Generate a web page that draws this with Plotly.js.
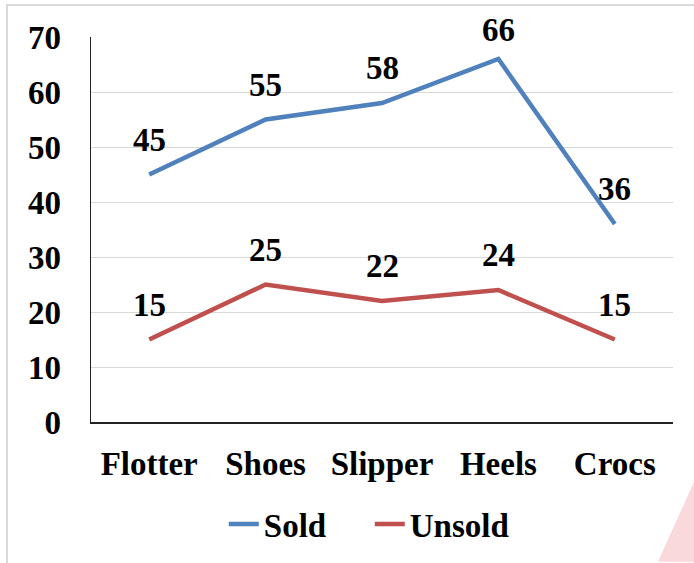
<!DOCTYPE html>
<html>
<head>
<meta charset="utf-8">
<script src="https://cdn.plot.ly/plotly-3.0.1.min.js"></script>
<style>html,body{margin:0;padding:0;background:#fff;}#chart{width:694px;height:563px;}</style>
</head>
<body>
<div id="chart"></div>
<script>
const categories = ["Flotter", "Shoes", "Slipper", "Heels", "Crocs"];
const soldValues = [45, 55, 58, 66, 36];
const unsoldValues = [15, 25, 22, 24, 15];
const seriesNames = ["Sold", "Unsold"];
const yTicks = [0, 10, 20, 30, 40, 50, 60, 70];

const FONT = "'Liberation Serif', 'Times New Roman', serif";
const blue = "#4F81BD";
const red = "#C0504D";

const traces = [
  {x: categories, y: soldValues, name: seriesNames[0], type: "scatter", mode: "lines",
   line: {color: blue, width: 4.5}},
  {x: categories, y: unsoldValues, name: seriesNames[1], type: "scatter", mode: "lines",
   line: {color: red, width: 4.5}}
];

const labelFont = {family: FONT, size: 33, color: "#000", weight: "bold"};
const annotations = [];
function addLabels(vals) {
  vals.forEach((v, i) => {
    annotations.push({x: categories[i], y: v, xref: "x", yref: "y", text: String(v),
      showarrow: false, font: labelFont, yshift: (v >= 66 ? 29 : 35)});
  });
}
addLabels(soldValues);
addLabels(unsoldValues);

const tickFont = {family: FONT, size: 33, color: "#000", weight: "bold"};

const layout = {
  width: 694, height: 563,
  margin: {l: 91, r: 21, t: 37, b: 140},
  paper_bgcolor: "#fff", plot_bgcolor: "#fff",
  font: {family: FONT, size: 33, color: "#000", weight: "bold"},
  xaxis: {type: "category", range: [-0.5, 4.5], showgrid: false, zeroline: false,
    showline: true, linecolor: "#222", linewidth: 1.5, ticks: "",
    tickfont: tickFont, ticklabelstandoff: 12, fixedrange: true},
  yaxis: {range: [0, 70], tickvals: yTicks, ticktext: yTicks.map(String),
    showgrid: true, gridcolor: "#d9d9d9", gridwidth: 1, zeroline: false,
    showline: true, linecolor: "#222", linewidth: 1.5, ticks: "",
    tickfont: tickFont, ticklabelstandoff: 22, fixedrange: true},
  showlegend: true,
  legend: {orientation: "h", x: 0.479, xanchor: "center", y: -0.262, yanchor: "middle",
    font: {family: FONT, size: 33, color: "#000", weight: "bold"}, itemwidth: 30,
    entrywidth: 101, entrywidthmode: "pixels",
    bgcolor: "rgba(0,0,0,0)"},
  annotations: annotations,
  shapes: [
    {type: "rect", xref: "paper", yref: "paper", x0: -0.1443, x1: 1.1, y0: -0.5, y1: 1.0829,
     line: {color: "#d9d9d9", width: 2}, fillcolor: "rgba(0,0,0,0)", layer: "below"},
    {type: "path", xref: "paper", yref: "paper",
     path: "M 0.9742 -0.3627 L 1.0361 -0.1554 L 1.0361 -0.3627 Z",
     fillcolor: "#f9d9dc", line: {width: 0}, layer: "below"}
  ]
};

Plotly.newPlot("chart", traces, layout, {displayModeBar: false, staticPlot: true});
</script>
</body>
</html>
